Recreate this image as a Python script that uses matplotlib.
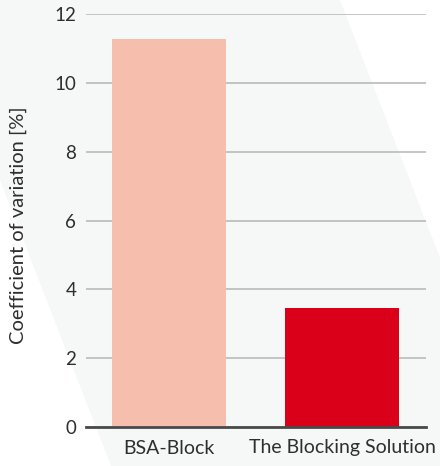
import matplotlib
matplotlib.use("Agg")
import matplotlib.pyplot as plt
from matplotlib.patches import Polygon

categories = ["BSA-Block", "The Blocking Solution"]
values = [11.28, 3.47]
bar_colors = ["#f6bfad", "#da001a"]
yticks = [0, 2, 4, 6, 8, 10, 12]
ylabel = "Coefficient of variation [%]"

plt.rcParams['font.family'] = ['Lato', 'DejaVu Sans']

W, H = 440, 466
fig = plt.figure(figsize=(W / 100, H / 100), dpi=100)
fig.patch.set_facecolor("white")

# background axes for the light diagonal band (pixel coordinates)
bg = fig.add_axes([0, 0, 1, 1], zorder=-1)
bg.set_xlim(0, W)
bg.set_ylim(H, 0)
bg.axis("off")
band = [(0, 0), (340, 0), (440, 258), (440, H), (111, H), (0, 180)]
bg.add_patch(Polygon(band, closed=True, facecolor="#f6f8f8", edgecolor="none"))

ax = fig.add_axes([86 / W, (H - 427) / H, 340 / W, 413 / H], zorder=1)
ax.set_facecolor("none")

x = list(range(len(categories)))
ax.bar(x, values, width=0.66, color=bar_colors, zorder=3)

ax.set_xlim(-0.48, 1.486)
ax.set_ylim(0, 12)
ax.set_yticks(yticks)
ax.set_yticklabels([str(t) for t in yticks], fontsize=13.5, color="#2e2e2e")
ax.set_xticks(x)
ax.set_xticklabels(categories, fontsize=14, color="#2e2e2e")
ax.tick_params(axis="y", length=0, pad=7)
ax.tick_params(axis="x", length=0, pad=9)

ax.yaxis.grid(True, color="#b4b6b6", linewidth=1.1, zorder=1)
ax.set_axisbelow(True)
for s in ["top", "right", "left"]:
    ax.spines[s].set_visible(False)
ax.spines["bottom"].set_color("#4a4a4a")
ax.spines["bottom"].set_linewidth(2)
ax.spines["bottom"].set_zorder(4)

ax.set_ylabel(ylabel, fontsize=14.5, color="#2e2e2e", va="center")
ax.yaxis.set_label_coords((18 - 86) / 340, (427 - 225) / 413)

fig.savefig("out.png", dpi=100)
